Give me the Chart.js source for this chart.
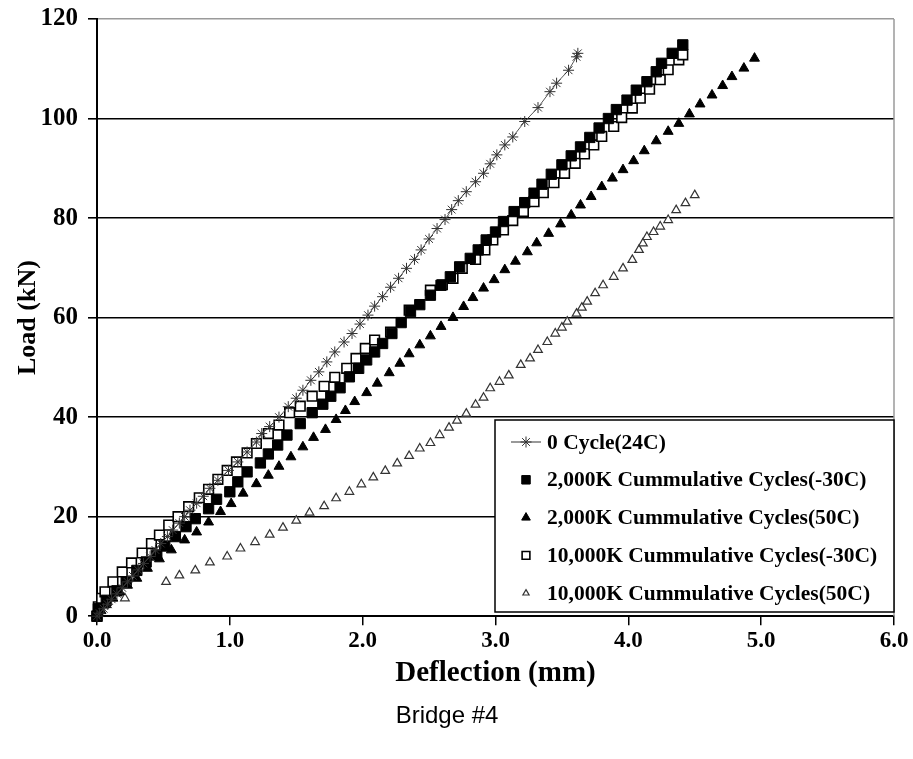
<!DOCTYPE html>
<html>
<head>
<title>Bridge #4 Load vs Deflection</title>
<style>
    body{
        margin:0;
        background:#fff;
    }
    #chart{
        display:block;
    }
</style>
</head>
<body>
<canvas id="chart" width="913" height="759"></canvas>

<script src="https://cdn.jsdelivr.net/npm/chart.js@4.4.0/dist/chart.umd.min.js"></script>
<script>
    // series labels, same order as the legend
    const seriesNames = [
        "0 Cycle(24C)",
        "2,000K Cummulative Cycles(-30C)",
        "2,000K Cummulative Cycles(50C)",
        "10,000K Cummulative Cycles(-30C)",
        "10,000K Cummulative Cycles(50C)"
    ];

    // 0 Cycle (24C) - deflection (mm) / load (kN)
    const cycle0Defl = [0, 0.02, 0.05, 0.08, 0.11, 0.15, 0.19, 0.23, 0.27, 0.31, 0.35, 0.40, 0.44, 0.48, 0.53, 0.57, 0.62, 0.66, 0.70, 0.75,
        0.80, 0.85, 0.91, 0.99, 1.06, 1.13, 1.20, 1.24, 1.30, 1.37, 1.44, 1.50, 1.55, 1.61, 1.67, 1.73, 1.79, 1.86, 1.92, 1.98,
        2.04, 2.09, 2.15, 2.21, 2.27, 2.33, 2.39, 2.44, 2.50, 2.56, 2.62, 2.67, 2.72, 2.78, 2.85, 2.91, 2.96, 3.01, 3.07, 3.13,
        3.22, 3.32, 3.41, 3.46, 3.55, 3.61, 3.62];
    const cycle0Load = [0, 0.6, 1.5, 2.4, 3.4, 4.5, 5.7, 6.9, 8.1, 9.3, 10.6, 12.0, 13.3, 14.6, 16.0, 17.3, 18.7, 20.0, 21.3, 22.7,
        24.1, 25.7, 27.3, 29.3, 31.0, 33.0, 35.0, 36.7, 38.1, 40.0, 42.1, 43.8, 45.4, 47.4, 49.1, 51.1, 53.1, 55.1, 56.8, 58.7,
        60.5, 62.3, 64.2, 66.1, 67.9, 69.9, 71.7, 73.6, 75.8, 77.9, 79.7, 81.7, 83.5, 85.3, 87.3, 89.0, 90.9, 92.7, 94.7, 96.3,
        99.4, 102.2, 105.4, 107.1, 109.7, 112.4, 113.1];

    // 2,000K cycles (-30C)
    const k2coldDefl = [0, 0.01, 0.07, 0.15, 0.22, 0.30, 0.37, 0.45, 0.51, 0.59, 0.67, 0.74, 0.84, 0.90, 1.00, 1.06, 1.13, 1.23, 1.29, 1.36,
        1.43, 1.53, 1.62, 1.70, 1.76, 1.83, 1.90, 1.97, 2.03, 2.09, 2.15, 2.22, 2.29, 2.36, 2.43, 2.51, 2.59, 2.66, 2.73, 2.81,
        2.87, 2.93, 3.00, 3.06, 3.14, 3.22, 3.29, 3.35, 3.42, 3.50, 3.57, 3.64, 3.71, 3.78, 3.85, 3.91, 3.99, 4.06, 4.14, 4.21,
        4.25, 4.33, 4.41];
    const k2coldLoad = [0, 1.5, 3.2, 5.1, 6.9, 9.2, 10.9, 12.3, 14.1, 16.0, 18.0, 19.6, 21.6, 23.5, 25.0, 27.0, 29.0, 30.8, 32.6, 34.4,
        36.4, 38.7, 40.9, 42.6, 44.2, 45.9, 48.1, 49.8, 51.5, 53.1, 54.8, 56.8, 59.0, 61.2, 62.6, 64.5, 66.5, 68.2, 70.2, 71.9,
        73.6, 75.6, 77.2, 79.3, 81.3, 83.1, 85.0, 86.8, 88.8, 90.7, 92.5, 94.3, 96.2, 98.1, 100.0, 101.8, 103.7, 105.7, 107.4, 109.4,
        111.1, 113.1, 114.8];

    // 2,000K cycles (50C)
    const k2hotDefl = [0, 0.03, 0.07, 0.12, 0.17, 0.23, 0.30, 0.38, 0.47, 0.56, 0.66, 0.75, 0.84, 0.93, 1.01, 1.10, 1.20, 1.29, 1.37, 1.46,
        1.55, 1.63, 1.72, 1.80, 1.87, 1.94, 2.03, 2.11, 2.20, 2.28, 2.35, 2.43, 2.51, 2.59, 2.68, 2.76, 2.83, 2.91, 2.99, 3.07,
        3.15, 3.24, 3.31, 3.40, 3.49, 3.57, 3.64, 3.72, 3.80, 3.88, 3.96, 4.04, 4.12, 4.21, 4.30, 4.38, 4.46, 4.54, 4.63, 4.71,
        4.78, 4.87, 4.95];
    const k2hotLoad = [0, 1.1, 2.3, 3.6, 4.9, 6.2, 7.6, 9.6, 11.5, 13.3, 15.3, 16.9, 18.9, 21.0, 22.6, 24.7, 26.6, 28.3, 30.1, 32.0,
        34.0, 35.9, 37.5, 39.5, 41.3, 43.1, 44.9, 46.8, 48.9, 50.8, 52.7, 54.5, 56.3, 58.2, 60.0, 62.2, 64.0, 65.9, 67.6, 69.6,
        71.3, 73.2, 75.0, 76.9, 78.8, 80.6, 82.6, 84.3, 86.3, 88.0, 89.7, 91.5, 93.5, 95.5, 97.4, 99.0, 100.9, 102.9, 104.7, 106.6,
        108.4, 110.1, 112.1];

    // 10,000K cycles (-30C)
    const k10coldDefl = [0, 0.01, 0.035, 0.06, 0.12, 0.19, 0.26, 0.34, 0.41, 0.47, 0.54, 0.61, 0.69, 0.77, 0.84, 0.91, 0.98, 1.05, 1.13, 1.20,
        1.29, 1.37, 1.45, 1.53, 1.62, 1.71, 1.79, 1.88, 1.95, 2.02, 2.09, 2.21, 2.35, 2.51, 2.60, 2.68, 2.75, 2.85, 2.92, 2.98,
        3.06, 3.13, 3.21, 3.29, 3.36, 3.44, 3.52, 3.60, 3.67, 3.74, 3.80, 3.89, 3.95, 4.03, 4.09, 4.16, 4.24, 4.30, 4.38, 4.41];
    const k10coldLoad = [0, 1.9, 3.6, 4.9, 6.9, 8.9, 10.7, 12.7, 14.6, 16.3, 18.3, 20.0, 22.0, 23.8, 25.5, 27.5, 29.3, 31.0, 32.8, 34.7,
        36.7, 38.4, 40.9, 42.2, 44.2, 46.2, 48.0, 49.8, 51.8, 53.8, 55.5, 57.1, 61.5, 65.5, 66.6, 67.9, 69.9, 71.7, 73.6, 75.6,
        77.6, 79.5, 81.3, 83.3, 85.1, 87.1, 89.0, 91.0, 92.9, 94.7, 96.4, 98.4, 100.2, 102.1, 104.1, 105.9, 107.8, 109.8, 111.8, 112.8];

    // 10,000K cycles (50C)
    const k10hotDefl = [0, 0.21, 0.52, 0.62, 0.74, 0.85, 0.98, 1.08, 1.19, 1.30, 1.40, 1.50, 1.60, 1.71, 1.80, 1.90, 1.99, 2.08, 2.17, 2.26,
        2.35, 2.43, 2.51, 2.58, 2.65, 2.71, 2.78, 2.85, 2.91, 2.96, 3.03, 3.10, 3.19, 3.26, 3.32, 3.39, 3.45, 3.50, 3.54, 3.61,
        3.65, 3.69, 3.75, 3.81, 3.89, 3.96, 4.03, 4.08, 4.11, 4.14, 4.19, 4.24, 4.30, 4.36, 4.43, 4.50];
    const k10hotLoad = [0, 3.6, 6.9, 8.2, 9.2, 10.8, 12.0, 13.6, 14.9, 16.4, 17.8, 19.2, 20.8, 22.1, 23.7, 25.0, 26.5, 27.9, 29.2, 30.7,
        32.2, 33.7, 34.8, 36.4, 37.9, 39.3, 40.7, 42.5, 43.9, 45.8, 47.1, 48.4, 50.5, 51.8, 53.5, 55.1, 56.8, 58.0, 59.2, 60.8,
        62.0, 63.2, 64.9, 66.5, 68.2, 69.9, 71.6, 73.6, 74.9, 76.2, 77.2, 78.3, 79.6, 81.6, 83.0, 84.6];

    const xTicks = [0, 1, 2, 3, 4, 5, 6];
    const yTicks = [0, 20, 40, 60, 80, 100, 120];

    function toPoints(xs, ys) {
        return xs.map((x, i) => ({x: x, y: ys[i]}));
    }

    const serifBold = {family: "'Liberation Serif', 'DejaVu Serif', serif", weight: 'bold'};

    // marker sizes used inside the legend box
    const legendRadius = [5.5, 6, 5, 5.5, 3.6];

    // legend box drawn inside the plot, lower right
    const legendBox = {
        id: 'legendBox',
        afterDatasetsDraw(chart) {
            const ctx = chart.ctx;
            const area = chart.chartArea;
            const left = 495, top = 420, right = area.right, bottom = 612;
            ctx.save();
            ctx.fillStyle = '#fff';
            ctx.fillRect(left, top, right - left, bottom - top);
            ctx.strokeStyle = '#000';
            ctx.lineWidth = 1.5;
            ctx.strokeRect(left, top, right - left, bottom - top);
            ctx.font = "bold 21.5px 'Liberation Serif', 'DejaVu Serif', serif";
            ctx.textBaseline = 'middle';
            ctx.textAlign = 'left';
            chart.data.datasets.forEach((ds, i) => {
                const y = top + 22 + i * 37.8;
                const mx = left + 31;
                if (ds.showLine) {
                    ctx.strokeStyle = ds.borderColor;
                    ctx.lineWidth = 1.2;
                    ctx.beginPath();
                    ctx.moveTo(mx - 15, y);
                    ctx.lineTo(mx + 15, y);
                    ctx.stroke();
                }
                ctx.fillStyle = ds.pointBackgroundColor;
                ctx.strokeStyle = ds.pointBorderColor;
                ctx.lineWidth = ds.pointBorderWidth;
                Chart.helpers.drawPoint(ctx, {
                    pointStyle: ds.pointStyle,
                    radius: legendRadius[i],
                    borderWidth: ds.pointBorderWidth,
                    rotation: 0
                }, mx, y);
                ctx.fillStyle = '#000';
                ctx.fillText(ds.label, left + 52, y + 1);
            });
            ctx.restore();
        }
    };

    // gray frame line on the right of the plot area
    const rightFrame = {
        id: 'rightFrame',
        beforeDatasetsDraw(chart) {
            const ctx = chart.ctx;
            const a = chart.chartArea;
            ctx.save();
            ctx.strokeStyle = '#9a9a9a';
            ctx.lineWidth = 1.5;
            ctx.beginPath();
            ctx.moveTo(a.right, a.top);
            ctx.lineTo(a.right, a.bottom);
            ctx.stroke();
            ctx.restore();
        }
    };

    new Chart("chart", {
        type: "scatter",
        data: {
            datasets: [{
                label: seriesNames[0],
                data: toPoints(cycle0Defl, cycle0Load),
                showLine: true,
                borderColor: "#555",
                borderWidth: 1,
                pointStyle: "star",
                pointRadius: 5.5,
                pointBackgroundColor: "#333",
                pointBorderColor: "#333",
                pointBorderWidth: 1,
                clip: false
            }, {
                label: seriesNames[1],
                data: toPoints(k2coldDefl, k2coldLoad),
                showLine: false,
                pointStyle: "rect",
                pointRadius: 7.3,
                pointBackgroundColor: "#000",
                pointBorderColor: "#000",
                pointBorderWidth: 1,
                clip: false
            }, {
                label: seriesNames[2],
                data: toPoints(k2hotDefl, k2hotLoad),
                showLine: false,
                pointStyle: "triangle",
                pointRadius: 5.7,
                pointBackgroundColor: "#000",
                pointBorderColor: "#000",
                pointBorderWidth: 1,
                clip: false
            }, {
                label: seriesNames[3],
                data: toPoints(k10coldDefl, k10coldLoad),
                showLine: false,
                pointStyle: "rect",
                pointRadius: 6.8,
                pointBackgroundColor: "#fff",
                pointBorderColor: "#000",
                pointBorderWidth: 1.6,
                clip: false
            }, {
                label: seriesNames[4],
                data: toPoints(k10hotDefl, k10hotLoad),
                showLine: false,
                pointStyle: "triangle",
                pointRadius: 5,
                pointBackgroundColor: "#fff",
                pointBorderColor: "#333",
                pointBorderWidth: 1.2,
                clip: false
            }]
        },
        options: {
            responsive: false,
            animation: false,
            events: [],
            layout: {padding: {left: 0, right: 19, top: 19, bottom: 18}},
            plugins: {
                legend: {display: false},
                tooltip: {enabled: false},
                title: {
                    display: true,
                    position: 'bottom',
                    text: 'Bridge #4',
                    color: '#000',
                    font: {family: "'Liberation Sans', Arial, sans-serif", size: 24, weight: 'normal'},
                    padding: {top: 10, bottom: 10}
                }
            },
            scales: {
                x: {
                    type: 'linear',
                    min: xTicks[0],
                    max: xTicks[xTicks.length - 1],
                    afterFit: s => { s.height = 76; s.paddingLeft = 0; s.paddingRight = 0; },
                    afterBuildTicks: s => { s.ticks = xTicks.map(v => ({value: v})); },
                    ticks: {
                        color: '#000',
                        font: Object.assign({size: 23}, serifBold),
                        padding: 2,
                        maxRotation: 0,
                        callback: v => v.toFixed(1)
                    },
                    grid: {
                        drawOnChartArea: false,
                        drawTicks: true,
                        tickLength: 9,
                        tickColor: '#000',
                        lineWidth: 1.5
                    },
                    border: {display: true, color: '#000', width: 2},
                    title: {
                        display: true,
                        text: 'Deflection (mm)',
                        color: '#000',
                        font: Object.assign({size: 29}, serifBold),
                        padding: {top: 0, bottom: 1}
                    }
                },
                y: {
                    type: 'linear',
                    min: yTicks[0],
                    max: yTicks[yTicks.length - 1],
                    afterFit: s => { s.width = 97; s.paddingTop = 0; s.paddingBottom = 0; },
                    afterBuildTicks: s => { s.ticks = yTicks.map(v => ({value: v})); },
                    ticks: {
                        color: '#000',
                        font: Object.assign({size: 25}, serifBold),
                        padding: 10
                    },
                    grid: {
                        drawTicks: true,
                        tickLength: 9,
                        tickColor: '#000',
                        lineWidth: 1.6,
                        color: c => (c.tick && c.tick.value === 120) ? '#9a9a9a' : '#000'
                    },
                    border: {display: true, color: '#000', width: 2},
                    title: {
                        display: true,
                        text: 'Load (kN)',
                        color: '#000',
                        font: Object.assign({size: 26}, serifBold),
                        padding: {top: 13, bottom: 0}
                    }
                }
            }
        },
        plugins: [rightFrame, legendBox]
    });
</script>
</body>
</html>
